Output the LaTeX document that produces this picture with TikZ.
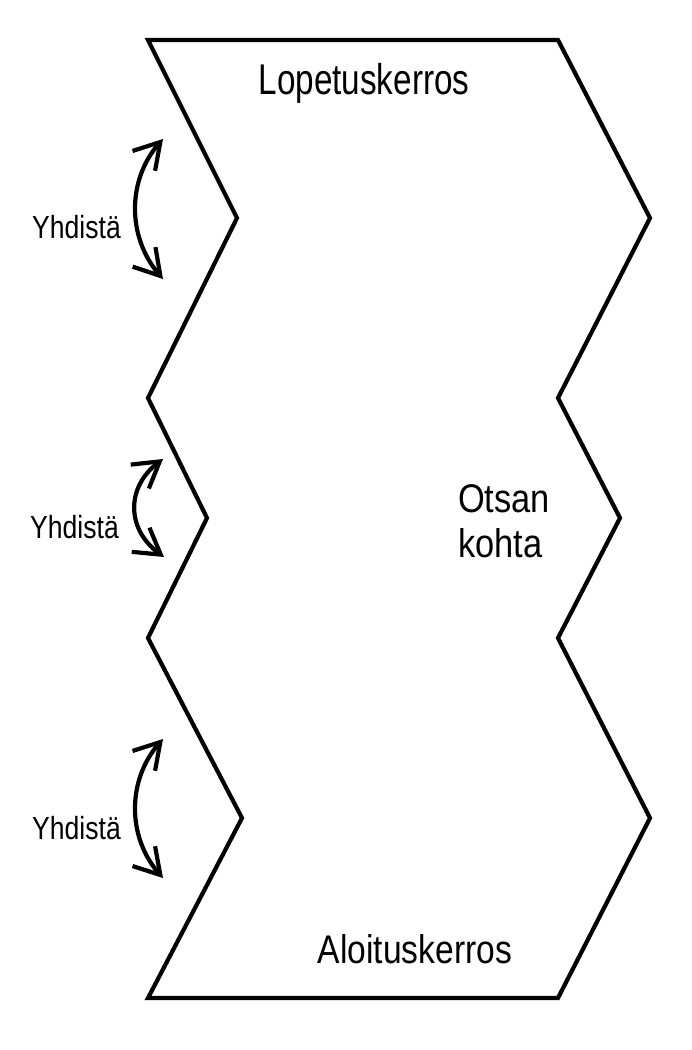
\documentclass[tikz,border=0pt]{standalone}
\usepackage{fontspec}
\setmainfont{Liberation Sans}
\usetikzlibrary{arrows.meta}
\tikzset{
  outline/.style={line width=4.2pt, line join=miter},
  barbtip/.style={Straight Barb[length=25pt,width=30pt,line width=4.2pt]},
  joinarrow/.style={line width=4.2pt, {Straight Barb[length=25pt,width=30pt,line width=4.2pt]}-{Straight Barb[length=25pt,width=30pt,line width=4.2pt]}},
  biglabel/.style={font=\fontsize{40}{44}\selectfont, inner sep=0pt},
  smalllabel/.style={font=\fontsize{32}{36}\selectfont, inner sep=0pt, anchor=base west}
}
\begin{document}
\begin{tikzpicture}[x=1pt,y=-1pt]
\useasboundingbox (0,0) rectangle (692,1050);
\fill[white] (0,0) rectangle (692,1050);
\draw[outline] (148,40) -- (558,40) -- (650,218) -- (558,398) -- (620,518) -- (558,638) -- (650,818) -- (558,998)
  -- (148,998) -- (242,818) -- (148,638) -- (207,518) -- (148,398) -- (237,218) -- cycle;
\node[biglabel, anchor=base, font=\fontsize{43}{48}\selectfont] (top) at (364,94) {\scalebox{0.774}[1]{Lopetuskerros}};
\node[biglabel, anchor=base] (bot) at (415,963) {\scalebox{0.84}[1]{Aloituskerros}};
\node[biglabel, anchor=base west] (otsan) at (458,512) {\scalebox{0.86}[1]{Otsan}};
\node[biglabel, anchor=base west] (kohta) at (458,557) {\scalebox{0.86}[1]{kohta}};
\node[smalllabel] (y1) at (32,238) {\scalebox{0.83}[1]{Yhdistä}};
\node[smalllabel] (y2) at (30,538) {\scalebox{0.83}[1]{Yhdistä}};
\node[smalllabel] (y3) at (32,839) {\scalebox{0.83}[1]{Yhdistä}};
\coordinate (a1s) at (163,139);
\coordinate (a1e) at (163,279);
\coordinate (a2s) at (163,459);
\coordinate (a2e) at (164,557);
\coordinate (a3s) at (163,739);
\coordinate (a3e) at (163,878);
\draw[joinarrow] (a1s) .. controls (127,180) and (127,237) .. (a1e);
\draw[joinarrow] (a2s) .. controls (126,487) and (126,529) .. (a2e);
\draw[joinarrow] (a3s) .. controls (127,780) and (127,837) .. (a3e);
\end{tikzpicture}
\end{document}
